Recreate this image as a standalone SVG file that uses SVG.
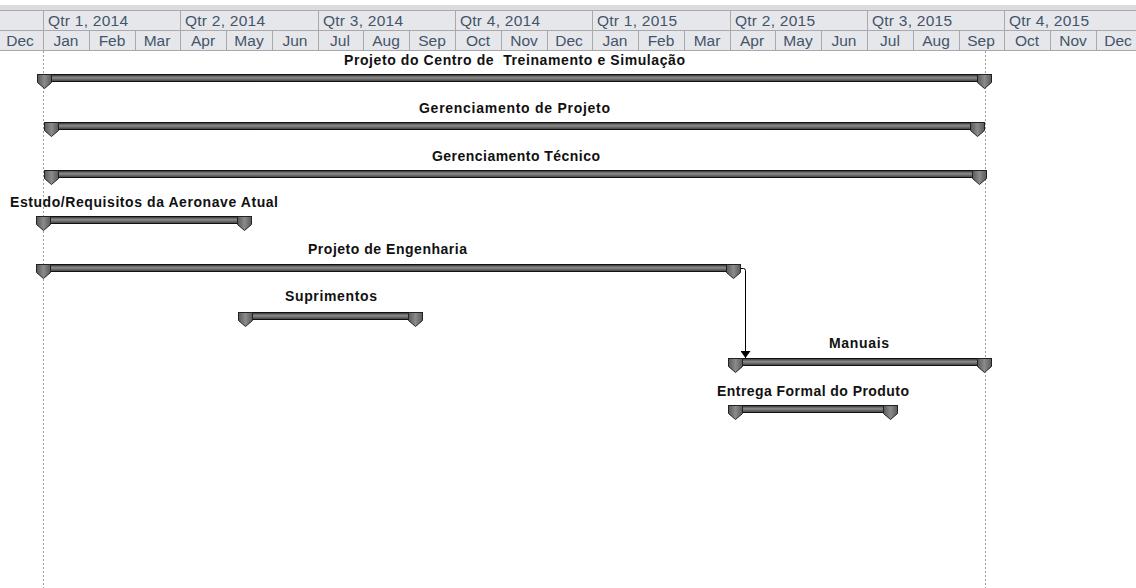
<svg xmlns="http://www.w3.org/2000/svg" width="1136" height="588" viewBox="0 0 1136 588">
<style>
.hdr{font-family:"Liberation Sans",Arial,sans-serif;font-size:15.5px;fill:#44546a}
.mo{text-anchor:middle}
.grid{stroke:#a8a8ad;stroke-width:1;fill:none}
.lbl{font-family:"Liberation Sans",Arial,sans-serif;font-size:14px;font-weight:bold;fill:#111}
.body{fill:url(#gBody);stroke:#111;stroke-width:1}
.dot{stroke:#9a9a9a;stroke-width:1;stroke-dasharray:2 2;fill:none}
.conn{stroke:#000;stroke-width:1;fill:none}
</style>
<defs>
<linearGradient id="gBody" x1="0" y1="0" x2="0" y2="1">
<stop offset="0" stop-color="#2e2e2e"/>
<stop offset="0.45" stop-color="#8c8c8c"/>
<stop offset="1" stop-color="#3c3c3c"/>
</linearGradient>
<linearGradient id="gCap" x1="0" y1="0" x2="1" y2="0">
<stop offset="0" stop-color="#5a5a5a"/>
<stop offset="0.5" stop-color="#8a8a8a"/>
<stop offset="1" stop-color="#5a5a5a"/>
</linearGradient>
<path id="cap" d="M0,0 H14 V8 L7,14 L0,8 Z" fill="url(#gCap)" stroke="#222" stroke-width="1"/>
<marker id="arr" markerWidth="7" markerHeight="10" refX="7" refY="5" orient="auto" markerUnits="userSpaceOnUse" viewBox="0 0 7 10">
<path d="M0,0 L7,5 L0,10 Z" fill="#000"/>
</marker>
</defs>
<rect width="1136" height="588" fill="#fff"/>
<g id="timescale">
<rect x="0" y="5" width="1136" height="5" fill="#dcdcde"/>
<rect x="0" y="10" width="1136" height="40" fill="#e6e7ea"/>
<path class="grid" d="M0,10.5 H1136 M0,30.5 H1136 M0,50.5 H1136"/>
<path class="grid" d="M43.5,10 V50 M180.5,10 V50 M318.5,10 V50 M455.5,10 V50 M592.5,10 V50 M730.5,10 V50 M867.5,10 V50 M1004.5,10 V50"/>
<path class="grid" d="M89.5,30 V50 M135.5,30 V50 M226.5,30 V50 M272.5,30 V50 M363.5,30 V50 M409.5,30 V50 M501.5,30 V50 M547.5,30 V50 M638.5,30 V50 M684.5,30 V50 M775.5,30 V50 M821.5,30 V50 M913.5,30 V50 M959.5,30 V50 M1050.5,30 V50 M1096.5,30 V50"/>
<text class="hdr" x="48" y="26" textLength="80">Qtr 1, 2014</text>
<text class="hdr" x="185" y="26" textLength="80">Qtr 2, 2014</text>
<text class="hdr" x="323" y="26" textLength="80">Qtr 3, 2014</text>
<text class="hdr" x="460" y="26" textLength="80">Qtr 4, 2014</text>
<text class="hdr" x="597" y="26" textLength="80">Qtr 1, 2015</text>
<text class="hdr" x="735" y="26" textLength="80">Qtr 2, 2015</text>
<text class="hdr" x="872" y="26" textLength="80">Qtr 3, 2015</text>
<text class="hdr" x="1009" y="26" textLength="80">Qtr 4, 2015</text>
<text class="hdr mo" x="20" y="46">Dec</text>
<text class="hdr mo" x="66" y="46">Jan</text>
<text class="hdr mo" x="112" y="46">Feb</text>
<text class="hdr mo" x="157" y="46">Mar</text>
<text class="hdr mo" x="203" y="46">Apr</text>
<text class="hdr mo" x="249" y="46">May</text>
<text class="hdr mo" x="295" y="46">Jun</text>
<text class="hdr mo" x="340" y="46">Jul</text>
<text class="hdr mo" x="386" y="46">Aug</text>
<text class="hdr mo" x="432" y="46">Sep</text>
<text class="hdr mo" x="478" y="46">Oct</text>
<text class="hdr mo" x="524" y="46">Nov</text>
<text class="hdr mo" x="569" y="46">Dec</text>
<text class="hdr mo" x="615" y="46">Jan</text>
<text class="hdr mo" x="661" y="46">Feb</text>
<text class="hdr mo" x="707" y="46">Mar</text>
<text class="hdr mo" x="752" y="46">Apr</text>
<text class="hdr mo" x="798" y="46">May</text>
<text class="hdr mo" x="844" y="46">Jun</text>
<text class="hdr mo" x="890" y="46">Jul</text>
<text class="hdr mo" x="936" y="46">Aug</text>
<text class="hdr mo" x="981" y="46">Sep</text>
<text class="hdr mo" x="1027" y="46">Oct</text>
<text class="hdr mo" x="1073" y="46">Nov</text>
<text class="hdr mo" x="1118" y="46">Dec</text>
</g>
<g id="guides">
<path class="dot" d="M43.5,51 V588"/>
<path class="dot" d="M985.5,51 V588"/>
</g>
<g id="task1">
<text class="lbl" x="344" y="65" textLength="341" xml:space="preserve">Projeto do Centro de  Treinamento e Simulação</text>
<rect class="body" x="37.5" y="74.5" width="954" height="7"/>
<use href="#cap" x="37.5" y="74.5"/>
<use href="#cap" x="977.5" y="74.5"/>
</g>
<g id="task2">
<text class="lbl" x="419" y="113" textLength="191">Gerenciamento de Projeto</text>
<rect class="body" x="44.5" y="122.5" width="940" height="7"/>
<use href="#cap" x="44.5" y="122.5"/>
<use href="#cap" x="970.5" y="122.5"/>
</g>
<g id="task3">
<text class="lbl" x="432" y="161" textLength="168">Gerenciamento Técnico</text>
<rect class="body" x="44.5" y="170.5" width="942" height="7"/>
<use href="#cap" x="44.5" y="170.5"/>
<use href="#cap" x="972.5" y="170.5"/>
</g>
<g id="task4">
<text class="lbl" x="10" y="207" textLength="268">Estudo/Requisitos da Aeronave Atual</text>
<rect class="body" x="36.5" y="216.5" width="215" height="7"/>
<use href="#cap" x="36.5" y="216.5"/>
<use href="#cap" x="237.5" y="216.5"/>
</g>
<g id="task5">
<text class="lbl" x="308" y="254" textLength="159">Projeto de Engenharia</text>
<rect class="body" x="36.5" y="264.5" width="704" height="7"/>
<use href="#cap" x="36.5" y="264.5"/>
<use href="#cap" x="726.5" y="264.5"/>
</g>
<g id="task6">
<text class="lbl" x="285" y="301" textLength="92">Suprimentos</text>
<rect class="body" x="238.5" y="312.5" width="184" height="7"/>
<use href="#cap" x="238.5" y="312.5"/>
<use href="#cap" x="408.5" y="312.5"/>
</g>
<g id="task7">
<text class="lbl" x="829" y="348" textLength="60">Manuais</text>
<rect class="body" x="728.5" y="358.5" width="263" height="7"/>
<use href="#cap" x="728.5" y="358.5"/>
<use href="#cap" x="977.5" y="358.5"/>
</g>
<g id="task8">
<text class="lbl" x="717" y="396" textLength="192">Entrega Formal do Produto</text>
<rect class="body" x="728.5" y="405.5" width="169" height="7"/>
<use href="#cap" x="728.5" y="405.5"/>
<use href="#cap" x="883.5" y="405.5"/>
</g>
<g id="connectors">
<path class="conn" d="M741,268.5 H743.5 Q745.5,268.5 745.5,270.5 V358" marker-end="url(#arr)"/>
</g>
</svg>
